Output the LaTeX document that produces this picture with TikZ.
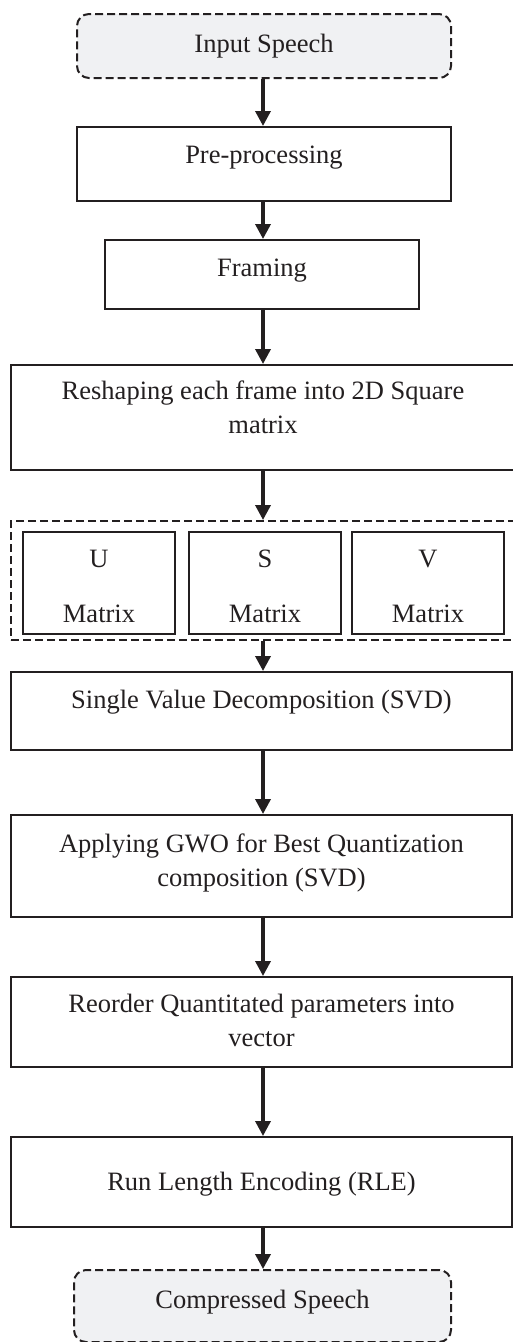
\documentclass[tikz,border=0pt]{standalone}
\usepackage{fontspec}
\setmainfont{Liberation Serif}
\usetikzlibrary{arrows.meta}
\definecolor{ink}{HTML}{231F20}
\definecolor{termfill}{HTML}{F0F1F3}
\tikzset{
  box/.style={draw=ink, line width=2pt, rectangle, inner sep=0pt},
  term/.style={draw=ink, fill=termfill, line width=2pt, rounded corners=12pt,
               dash pattern=on 8pt off 4pt, inner sep=0pt},
  group/.style={draw=ink, line width=2pt, dash pattern=on 8pt off 4pt, inner sep=0pt},
  txt/.style={text=ink, font=\fontsize{26.5}{34}\selectfont, inner sep=0pt, anchor=base, align=center},
  arr/.style={draw=ink, line width=3.5pt, -{Triangle[length=15pt,width=15pt]}},
}
\begin{document}
\begin{tikzpicture}[x=1pt,y=-1pt]
\useasboundingbox (0,0) rectangle (513,1342);

% vertical line that all connectors follow
\coordinate (spine) at (263,0);

% process boxes
\node[term, minimum width=374pt, minimum height=64pt] (inp) at (264,46) {};
\node[box, minimum width=374pt, minimum height=74pt] (pre) at (264,164) {};
\node[box, minimum width=314pt, minimum height=69pt] (frm) at (262,274.5) {};
\node[box, minimum width=505pt, minimum height=105pt] (rsh) at (263.5,417.5) {};
\node[group, minimum width=505pt, minimum height=119pt] (grp) at (263.5,580.5) {};
\node[box, minimum width=152pt, minimum height=102pt] (um) at (99,583) {};
\node[box, minimum width=152pt, minimum height=102pt] (sm) at (265,583) {};
\node[box, minimum width=152pt, minimum height=102pt] (vm) at (428,583) {};
\node[box, minimum width=501pt, minimum height=78pt] (svd) at (261.5,711) {};
\node[box, minimum width=501pt, minimum height=102pt] (gwo) at (261.5,866) {};
\node[box, minimum width=501pt, minimum height=90pt] (ord) at (261.5,1022) {};
\node[box, minimum width=501pt, minimum height=90pt] (rle) at (261.5,1182) {};
\node[term, minimum width=377pt, minimum height=72pt] (out) at (262.5,1306) {};

% labels (multi-line labels sit on the baseline of their last line)
\node[txt] (inpT) at (264,52) {Input Speech};
\node[txt] (preT) at (264,163) {Pre-processing};
\node[txt] (frmT) at (262,276) {Framing};
\node[txt] (rshT) at (263,433) {Reshaping each frame into 2D Square\\matrix};
\node[txt] (umT) at (99,567) {U};
\node[txt] (umT2) at (99,622) {Matrix};
\node[txt] (smT) at (265,567) {S};
\node[txt] (smT2) at (265,622) {Matrix};
\node[txt] (vmT) at (428,567) {V};
\node[txt] (vmT2) at (428,622) {Matrix};
\node[txt] (svdT) at (261.5,708) {Single Value Decomposition (SVD)};
\node[txt] (gwoT) at (261.5,886) {Applying GWO for Best Quantization\\composition (SVD)};
\node[txt] (ordT) at (261.5,1046) {Reorder Quantitated parameters into\\vector};
\node[txt] (rleT) at (261.5,1190) {Run Length Encoding (RLE)};
\node[txt] (outT) at (262.5,1308) {Compressed Speech};

% flow
\draw[arr] (spine |- inp.south) -- (spine |- pre.north);
\draw[arr] (spine |- pre.south) -- (spine |- frm.north);
\draw[arr] (spine |- frm.south) -- (spine |- rsh.north);
\draw[arr] (spine |- rsh.south) -- (spine |- grp.north);
\draw[arr] (spine |- grp.south) -- (spine |- svd.north);
\draw[arr] (spine |- svd.south) -- (spine |- gwo.north);
\draw[arr] (spine |- gwo.south) -- (spine |- ord.north);
\draw[arr] (spine |- ord.south) -- (spine |- rle.north);
\draw[arr] (spine |- rle.south) -- (spine |- out.north);
\end{tikzpicture}
\end{document}
